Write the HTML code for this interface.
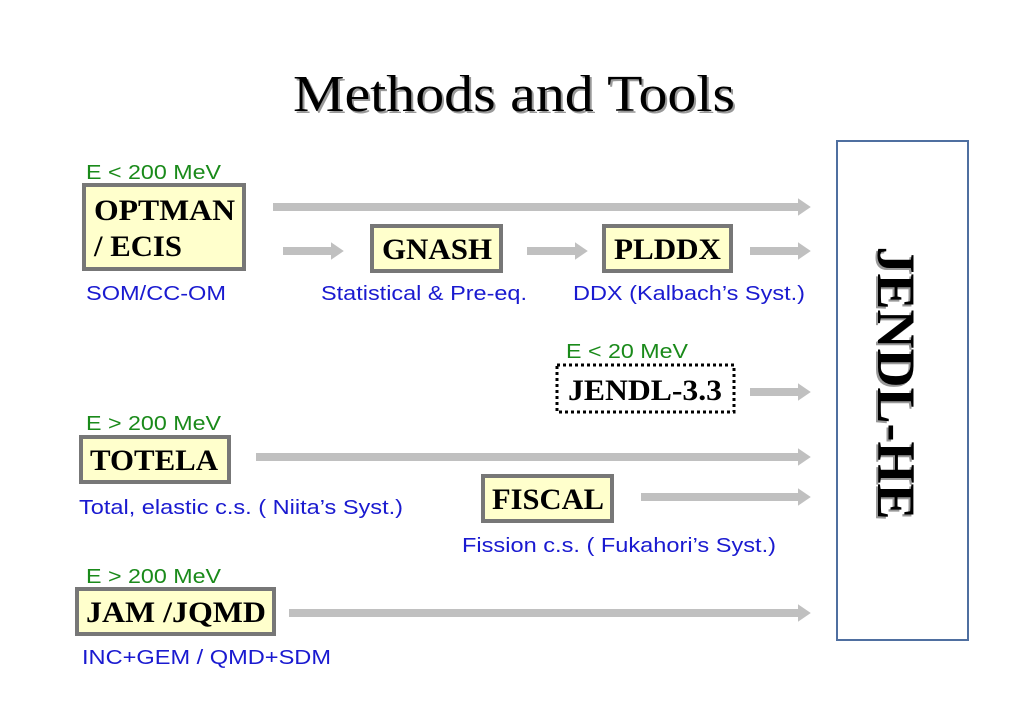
<!DOCTYPE html>
<html><head><meta charset="utf-8"><style>
body{margin:0;background:#fff}
svg{display:block}
.b{font-family:"Liberation Serif",serif;font-weight:bold;font-size:30px;fill:#000}
.g{font-family:"Liberation Sans",sans-serif;font-size:20px;fill:#1a8a1a}
.u{font-family:"Liberation Sans",sans-serif;font-size:20px;fill:#1a1ad0}
</style></head><body>
<svg width="1023" height="708" viewBox="0 0 1023 708" xmlns="http://www.w3.org/2000/svg">
<defs>
<marker id="h" markerWidth="4" markerHeight="4" refX="0.5" refY="2" orient="auto" markerUnits="strokeWidth">
<path d="M0,0.9 L1.6,2 L0,3.1 Z" fill="#c0c0c0"/></marker>
</defs>
<text x="295" y="113" textLength="442" lengthAdjust="spacingAndGlyphs" font-family="Liberation Serif,serif" font-size="52" fill="#999">Methods and Tools</text>
<text x="293" y="111" textLength="442" lengthAdjust="spacingAndGlyphs" font-family="Liberation Serif,serif" font-size="52" fill="#000">Methods and Tools</text>

<g stroke="#c0c0c0" stroke-width="8" fill="none">
<line x1="273" y1="207" x2="802" y2="207" marker-end="url(#h)"/>
<line x1="283" y1="251" x2="335" y2="251" marker-end="url(#h)"/>
<line x1="527" y1="251" x2="579" y2="251" marker-end="url(#h)"/>
<line x1="750" y1="251" x2="802" y2="251" marker-end="url(#h)"/>
<line x1="750" y1="392" x2="802" y2="392" marker-end="url(#h)"/>
<line x1="256" y1="457" x2="802" y2="457" marker-end="url(#h)"/>
<line x1="641" y1="497" x2="802" y2="497" marker-end="url(#h)"/>
<line x1="289" y1="613" x2="802" y2="613" marker-end="url(#h)"/>
</g>

<g fill="#ffffcc" stroke="#777" stroke-width="4">
<rect x="84" y="185" width="160" height="84"/>
<rect x="372" y="226" width="129" height="45"/>
<rect x="604" y="226" width="127" height="45"/>
<rect x="81" y="437" width="148" height="45"/>
<rect x="483" y="476" width="129" height="45"/>
<rect x="77" y="589" width="197" height="45"/>
</g>
<rect x="557" y="365" width="177" height="47" fill="none" stroke="#000" stroke-width="3" stroke-dasharray="3,3"/>

<text class="b" x="94" y="220" textLength="141" lengthAdjust="spacingAndGlyphs">OPTMAN</text>
<text class="b" x="94" y="256" textLength="88" lengthAdjust="spacingAndGlyphs">/ ECIS</text>
<text class="b" x="382" y="259" textLength="110" lengthAdjust="spacingAndGlyphs">GNASH</text>
<text class="b" x="614" y="259" textLength="107" lengthAdjust="spacingAndGlyphs">PLDDX</text>
<text class="b" x="568" y="400" textLength="154" lengthAdjust="spacingAndGlyphs">JENDL-3.3</text>
<text class="b" x="90" y="470" textLength="128" lengthAdjust="spacingAndGlyphs">TOTELA</text>
<text class="b" x="492" y="509" textLength="112" lengthAdjust="spacingAndGlyphs">FISCAL</text>
<text class="b" x="86" y="622" textLength="180" lengthAdjust="spacingAndGlyphs">JAM /JQMD</text>

<text class="g" x="86" y="179" textLength="135" lengthAdjust="spacingAndGlyphs">E &lt; 200 MeV</text>
<text class="u" x="86" y="300" textLength="140" lengthAdjust="spacingAndGlyphs">SOM/CC-OM</text>
<text class="u" x="321" y="300" textLength="206" lengthAdjust="spacingAndGlyphs">Statistical &amp; Pre-eq.</text>
<text class="u" x="573" y="300" textLength="232" lengthAdjust="spacingAndGlyphs">DDX (Kalbach’s Syst.)</text>
<text class="g" x="566" y="358" textLength="122" lengthAdjust="spacingAndGlyphs">E &lt; 20 MeV</text>
<text class="g" x="86" y="430" textLength="135" lengthAdjust="spacingAndGlyphs">E &gt; 200 MeV</text>
<text class="u" x="79" y="514" textLength="324" lengthAdjust="spacingAndGlyphs">Total, elastic c.s. ( Niita’s Syst.)</text>
<text class="u" x="462" y="552" textLength="314" lengthAdjust="spacingAndGlyphs">Fission c.s. ( Fukahori’s Syst.)</text>
<text class="g" x="86" y="583" textLength="135" lengthAdjust="spacingAndGlyphs">E &gt; 200 MeV</text>
<text class="u" x="82" y="664" textLength="249" lengthAdjust="spacingAndGlyphs">INC+GEM / QMD+SDM</text>

<rect x="837" y="141" width="131" height="499" fill="#fff" stroke="#4f6fa0" stroke-width="2"/>
<text transform="translate(878,383) rotate(90)" x="2" y="2" text-anchor="middle" font-family="Liberation Serif,serif" font-weight="bold" font-size="54" fill="#999">JENDL-HE</text>
<text transform="translate(878,383) rotate(90)" text-anchor="middle" font-family="Liberation Serif,serif" font-weight="bold" font-size="54" fill="#000">JENDL-HE</text>
</svg>
</body></html>
